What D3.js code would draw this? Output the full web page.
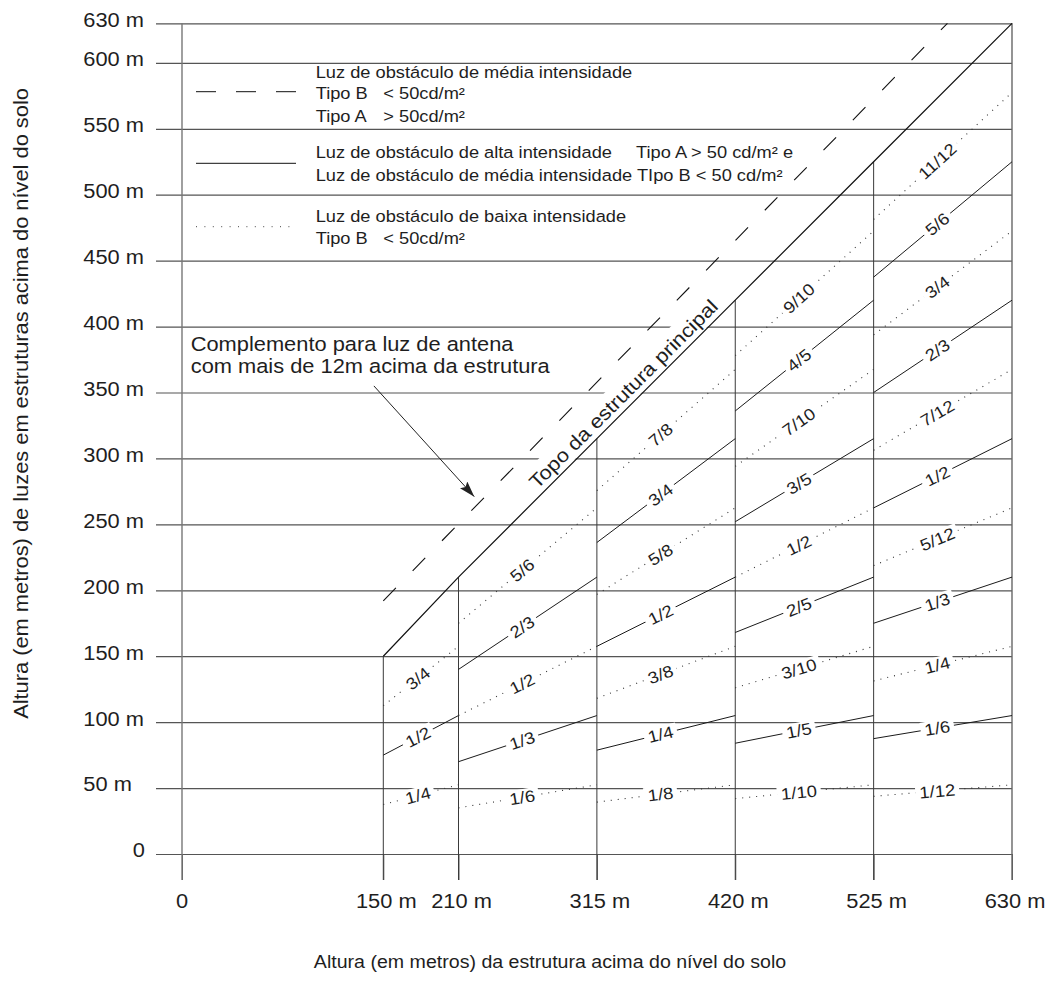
<!DOCTYPE html>
<html><head><meta charset="utf-8">
<script src="https://cdn.jsdelivr.net/npm/d3@7"></script>
<style>
html,body{margin:0;padding:0;background:#fff;}
svg{display:block;font-family:"Liberation Sans",Arial,sans-serif;}
</style></head><body>
<svg id="chart" width="1062" height="994"></svg>
<script>
// ---------------- data ----------------
const yTicks = [0, 50, 100, 150, 200, 250, 300, 350, 400, 450, 500, 550, 600, 630];
const yTickLabels = ["0", "50 m", "100 m", "150 m", "200 m", "250 m", "300 m", "350 m", "400 m", "450 m", "500 m", "550 m", "600 m", "630 m"];
const xTicks = [0, 150, 210, 315, 420, 525, 630];
const xTickLabels = ["0", "150 m", "210 m", "315 m", "420 m", "525 m", "630 m"];
const segmentBounds = [150, 210, 315, 420, 525, 630];
const fractionLabels = [
  ["1/4", "1/2", "3/4"],
  ["1/6", "1/3", "1/2", "2/3", "5/6"],
  ["1/8", "1/4", "3/8", "1/2", "5/8", "3/4", "7/8"],
  ["1/10", "1/5", "3/10", "2/5", "1/2", "3/5", "7/10", "4/5", "9/10"],
  ["1/12", "1/6", "1/4", "1/3", "5/12", "1/2", "7/12", "2/3", "3/4", "5/6", "11/12"]
];
const fractionStyles = [
  ["dot", "solid", "dot"],
  ["dot", "solid", "dot", "solid", "dot"],
  ["dot", "solid", "dot", "solid", "dot", "solid", "dot"],
  ["dot", "solid", "dot", "solid", "dot", "solid", "dot", "solid", "dot"],
  ["dot", "solid", "dot", "solid", "dot", "solid", "dot", "solid", "dot", "solid", "dot"]
];
const mainLine = [150, 210, 315, 420, 525, 630];      // top of structure: light height = structure height
const antennaLine = [[150, 192], [581, 630]];
const arrowFrom = [143, 355];
const arrowTo = [222, 271];
const annotationPos = [6.5, 381.7];
const toplabelAt = 342;

const yTitle = "Altura (em metros) de luzes em estruturas acima do nível do solo";
const xTitle = "Altura (em metros) da estrutura acima do nível do solo";
const annotationLines = ["Complemento para luz de antena", "com mais de 12m acima da estrutura"];
const topLabel = "Topo da estrutura principal";

// ---------------- setup ----------------
const SX = 1.12;            // horizontal stretch of the lettering
const INK = "#1e1e1e";
const svg = d3.select("#chart");
const x = d3.scaleLinear().domain([0, 150, 210, 630]).range([182, 383.3, 458.5, 1012]);
const y = d3.scaleLinear().domain([0, 630]).range([854, 23.3]);
const X0 = 156, TICKBOTTOM = y(0) + 26;

function T(g, px, py, s, o = {}) {
  let tr = `translate(${px},${py})`;
  if (o.rot) tr += ` rotate(${o.rot})`;
  tr += ` scale(${SX},1)`;
  const t = g.append("text").attr("transform", tr)
    .attr("font-size", o.size || 19.5)
    .attr("text-anchor", o.anchor || "start")
    .attr("fill", o.fill || INK)
    .text(s);
  if (o.dy) t.attr("dy", o.dy);
  return t;
}

// ---------------- gridlines ----------------
const grid = svg.append("g").attr("transform", `translate(${X0},0)`)
  .call(d3.axisRight(y).tickValues(yTicks).tickSize(x(630) - X0).tickFormat(""));
grid.select(".domain").remove();
grid.selectAll(".tick line").attr("stroke", "#555").attr("stroke-width", 1.2);

// x tick marks below the baseline
const xt = svg.append("g").attr("transform", `translate(0,${y(0)})`)
  .call(d3.axisBottom(x).tickValues(xTicks).tickSize(26).tickFormat(""));
xt.select(".domain").remove();
xt.selectAll(".tick line").attr("stroke", "#555");

// y axis vertical
svg.append("line").attr("x1", x(0)).attr("x2", x(0)).attr("y1", y(630)).attr("y2", TICKBOTTOM)
  .attr("stroke", "#777").attr("stroke-width", 1.4);

// ---------------- top label box (behind lines) ----------------
const mi = 2; // segment 315-420 for angle
const ang = Math.atan2(y(420) - y(315), x(420) - x(315)) * 180 / Math.PI;
const topG = svg.append("g").attr("transform", `translate(${x(toplabelAt)},${y(toplabelAt)}) rotate(${ang})`);
const topRect = topG.append("rect").attr("fill", "#fff");
const topText = topG.append("text").attr("transform", `translate(0,-6) scale(${SX},1)`)
  .attr("font-size", 19.5).attr("text-anchor", "middle").attr("fill", INK).text(topLabel);
const tw = topText.node().getComputedTextLength() * SX;
topRect.attr("x", -tw / 2 - 6).attr("width", tw + 12).attr("y", -27).attr("height", 26);

// ---------------- segment verticals ----------------
svg.append("g").selectAll("line").data(segmentBounds).join("line")
  .attr("x1", d => x(d)).attr("x2", d => x(d))
  .attr("y1", TICKBOTTOM).attr("y2", d => y(d))
  .attr("stroke", d => d === 630 ? "#666" : "#3a3a3a").attr("stroke-width", d => d === 630 ? 1.4 : 1);

// ---------------- fraction lines ----------------
const fracData = [];
fractionLabels.forEach((arr, si) => {
  const x0 = segmentBounds[si], x1 = segmentBounds[si + 1];
  arr.forEach((lab, k) => {
    const [a, b] = lab.split("/").map(Number);
    fracData.push({ lab, f: a / b, x0, x1, style: fractionStyles[si][k] });
  });
});
svg.append("g").selectAll("line").data(fracData).join("line")
  .attr("x1", d => x(d.x0)).attr("y1", d => y(d.f * d.x0))
  .attr("x2", d => x(d.x1)).attr("y2", d => y(d.f * d.x1))
  .attr("stroke", d => d.style === "dot" ? "#333" : "#1a1a1a")
  .attr("stroke-width", d => d.style === "dot" ? 1.1 : 1)
  .attr("stroke-dasharray", d => d.style === "dot" ? "1,6" : null);

// ---------------- main line & antenna line ----------------
svg.append("path").datum(mainLine)
  .attr("d", d3.line().x(d => x(d)).y(d => y(d)))
  .attr("fill", "none").attr("stroke", "#111").attr("stroke-width", 1.2);
svg.append("path").datum(antennaLine)
  .attr("d", d3.line().x(d => x(d[0])).y(d => y(d[1])))
  .attr("fill", "none").attr("stroke", "#111").attr("stroke-width", 1.1)
  .attr("stroke-dasharray", "18,24");

// ---------------- fraction labels ----------------
const LT = 0.46;
fracData.forEach(d => {
  const p0 = [x(d.x0), y(d.f * d.x0)], p1 = [x(d.x1), y(d.f * d.x1)];
  const a = Math.atan2(p1[1] - p0[1], p1[0] - p0[0]) * 180 / Math.PI;
  const cx = p0[0] + LT * (p1[0] - p0[0]), cy = p0[1] + LT * (p1[1] - p0[1]);
  const g = svg.append("g").attr("transform", `translate(${cx},${cy}) rotate(${a})`);
  const r = g.append("rect").attr("fill", "#fff");
  const t = g.append("text").attr("transform", `scale(${SX},1)`).attr("font-size", 16.5)
    .attr("text-anchor", "middle").attr("dy", "0.36em").attr("fill", INK).text(d.lab);
  const w = t.node().getComputedTextLength() * SX;
  r.attr("x", -w / 2 - 4).attr("width", w + 8).attr("y", -8).attr("height", 16);
});

// ---------------- arrow annotation ----------------
svg.append("defs").append("marker").attr("id", "ah")
  .attr("viewBox", "0 0 16 10").attr("refX", 16).attr("refY", 5)
  .attr("markerWidth", 16).attr("markerHeight", 10).attr("markerUnits", "userSpaceOnUse")
  .attr("orient", "auto")
  .append("path").attr("d", "M0,0 L16,5 L0,10 L3,5 Z").attr("fill", "#222");
svg.append("line")
  .attr("x1", x(arrowFrom[0])).attr("y1", y(arrowFrom[1]))
  .attr("x2", x(arrowTo[0])).attr("y2", y(arrowTo[1]))
  .attr("stroke", "#222").attr("stroke-width", 1).attr("marker-end", "url(#ah)");
annotationLines.forEach((s, i) => T(svg, x(annotationPos[0]), y(annotationPos[1]) + i * 22.6, s, { size: 19.5 }));

// ---------------- legend ----------------
const LG = svg.append("g");
const LX0 = 196, LX1 = 296, LTX = 315.7, LTX2 = 383.3, LS = 16.3;
LG.append("line").attr("x1", LX0).attr("x2", LX1).attr("y1", 91.7).attr("y2", 91.7)
  .attr("stroke", "#111").attr("stroke-dasharray", "20,20");
LG.append("line").attr("x1", LX0).attr("x2", LX1).attr("y1", 163.3).attr("y2", 163.3)
  .attr("stroke", "#111");
LG.append("line").attr("x1", LX0).attr("x2", LX1).attr("y1", 226.7).attr("y2", 226.7)
  .attr("stroke", "#444").attr("stroke-dasharray", "1,7.4");
T(LG, LTX, 78, "Luz de obstáculo de média intensidade", { size: LS });
T(LG, LTX, 98.5, "Tipo B", { size: LS });
T(LG, LTX2, 98.5, "< 50cd/m²", { size: LS });
T(LG, LTX, 121.5, "Tipo A", { size: LS });
T(LG, LTX2, 121.5, "> 50cd/m²", { size: LS });
T(LG, LTX, 158, "Luz de obstáculo de alta intensidade", { size: LS });
T(LG, 636, 158, "Tipo A > 50 cd/m² e", { size: LS });
T(LG, LTX, 180.5, "Luz de obstáculo de média intensidade TIpo B < 50 cd/m²", { size: LS });
T(LG, LTX, 221.5, "Luz de obstáculo de baixa intensidade", { size: LS });
T(LG, LTX, 243.5, "Tipo B", { size: LS });
T(LG, LTX2, 243.5, "< 50cd/m²", { size: LS });

// ---------------- tick labels ----------------
yTicks.forEach((v, i) => {
  const lab = yTickLabels[i];
  if (lab === "0") T(svg, 145, y(v) + 3.4, lab, { anchor: "end" });
  else T(svg, 83.3, y(v) + 3.4, lab);
});
xTicks.forEach((v, i) => T(svg, x(v) + (v === 0 ? 0 : 3), 908, xTickLabels[i], { anchor: "middle" }));

// ---------------- axis titles ----------------
T(svg, 28, 403.5, yTitle, { rot: -90, anchor: "middle", size: 19.5 });
T(svg, 550, 968, xTitle, { anchor: "middle", size: 17.5 });
</script>
</body></html>
